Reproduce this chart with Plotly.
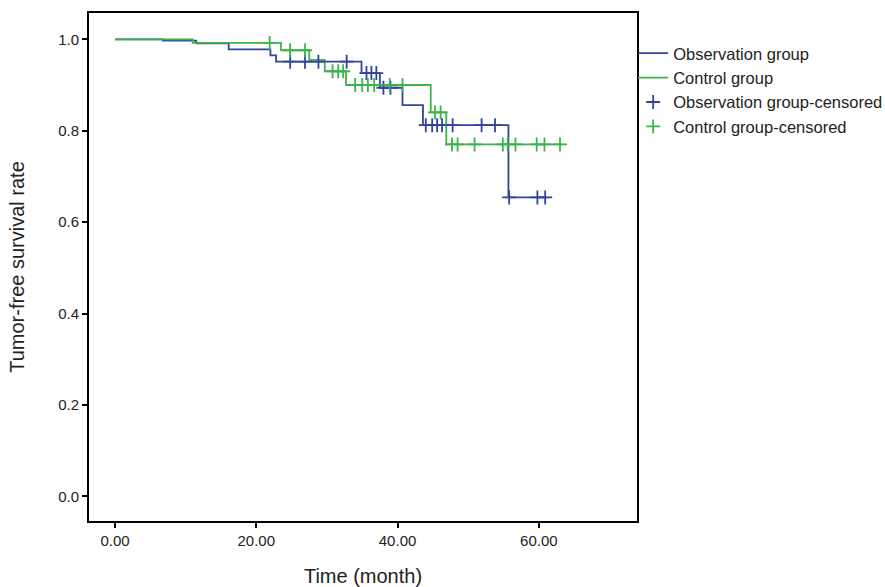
import plotly.graph_objects as go

# Kaplan-Meier step data (time in months, survival rate)
obs_times = [0, 6.8, 11.5, 16.1, 22.0, 22.8, 34.9, 37.5, 40.7, 43.6, 55.7, 61.1]
obs_surv = [1.0, 0.997, 0.991, 0.978, 0.965, 0.951, 0.926, 0.894, 0.856, 0.812, 0.654, 0.654]

ctrl_times = [0, 11.0, 23.5, 27.5, 29.7, 32.7, 44.7, 46.9, 63.3]
ctrl_surv = [1.0, 0.992, 0.976, 0.955, 0.930, 0.900, 0.840, 0.770, 0.770]

# Censored observation times
obs_cens = [24.8, 26.9, 28.8, 32.8, 35.6, 36.3, 37.0, 38.0, 39.0, 44.0, 44.9,
            45.6, 46.3, 47.8, 51.9, 53.8, 55.8, 59.8, 60.9]
ctrl_cens = [21.9, 24.8, 26.9, 30.8, 31.6, 32.3, 34.0, 35.0, 35.8, 36.7, 38.9,
             40.7, 45.3, 46.1, 47.7, 48.5, 50.9, 54.9, 55.6, 56.7, 59.7, 60.8, 63.0]

x_ticks = [0, 20, 40, 60]
x_tick_labels = ["0.00", "20.00", "40.00", "60.00"]
y_ticks = [0.0, 0.2, 0.4, 0.6, 0.8, 1.0]
y_tick_labels = ["0.0", "0.2", "0.4", "0.6", "0.8", "1.0"]

BLUE = "#33449f"
GREEN = "#3cb44b"
FONT = "Liberation Sans, Arial, sans-serif"


def surv_at(times, surv, t):
    s = surv[0]
    for ti, si in zip(times, surv):
        if ti <= t:
            s = si
    return s


fig = go.Figure()
fig.add_trace(go.Scatter(x=obs_times, y=obs_surv, mode="lines", line_shape="hv",
                         line=dict(color=BLUE, width=1.8), name="Observation group"))
fig.add_trace(go.Scatter(x=ctrl_times, y=ctrl_surv, mode="lines", line_shape="hv",
                         line=dict(color=GREEN, width=1.8), name="Control group"))
fig.add_trace(go.Scatter(x=obs_cens, y=[surv_at(obs_times, obs_surv, t) for t in obs_cens],
                         mode="markers", name="Observation group-censored",
                         marker=dict(symbol="cross-thin", size=10,
                                     line=dict(color=BLUE, width=1.8))))
fig.add_trace(go.Scatter(x=ctrl_cens, y=[surv_at(ctrl_times, ctrl_surv, t) for t in ctrl_cens],
                         mode="markers", name="Control group-censored",
                         marker=dict(symbol="cross-thin", size=10,
                                     line=dict(color=GREEN, width=1.8))))

axis_common = dict(showline=True, linecolor="black", linewidth=2, mirror=True,
                   ticks="outside", ticklen=5, tickwidth=2, tickcolor="black",
                   showgrid=False, zeroline=False, automargin=False,
                   tickfont=dict(family=FONT, size=15, color="#222"))

fig.update_layout(
    width=885, height=587,
    margin=dict(l=89, r=248, t=13, b=66, autoexpand=False),
    paper_bgcolor="white", plot_bgcolor="white",
    font=dict(family=FONT, color="#222"),
    xaxis=dict(range=[-3.68, 73.9], tickvals=x_ticks, ticktext=x_tick_labels,
               title=dict(text="Time (month)", font=dict(size=20), standoff=23),
               **axis_common),
    yaxis=dict(range=[-0.054, 1.0575], tickvals=y_ticks, ticktext=y_tick_labels,
               title=dict(text="Tumor-free survival rate", font=dict(size=20), standoff=28),
               **axis_common),
    legend=dict(x=0.993, y=0.955, xanchor="left", yanchor="top",
                font=dict(size=16.5, color="#222"), bgcolor="rgba(0,0,0,0)",
                tracegroupgap=0, itemwidth=30),
)

fig.write_html("out.html", config={"displayModeBar": False},
               post_script="document.body.style.margin='0';document.body.style.padding='0';")
